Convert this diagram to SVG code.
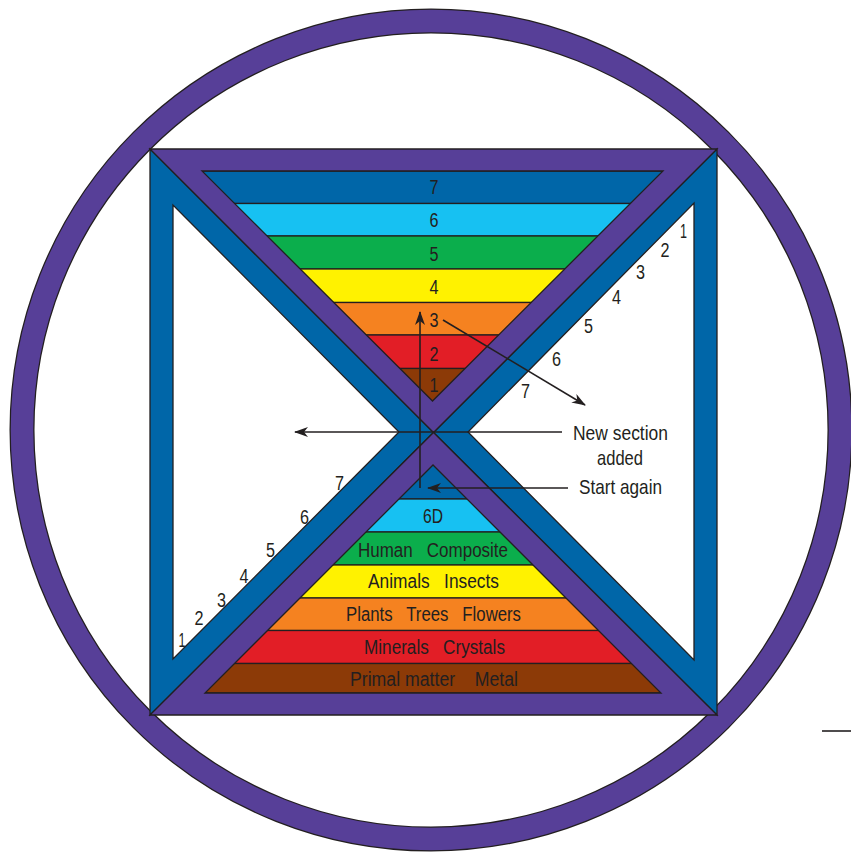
<svg xmlns="http://www.w3.org/2000/svg" width="851" height="855" viewBox="0 0 851 855">
<style>
.ol{stroke:#231f20;stroke-width:1.3;stroke-linejoin:miter}
.pur{fill:#573f98}
.blu{fill:#0066a8}
.wht{fill:#ffffff}
.lb{fill:#17c1f2}
.gr{fill:#0bae4c}
.ye{fill:#fff200}
.or{fill:#f58220}
.re{fill:#e21e26}
.br{fill:#8c3a07}
.band{stroke:#231f20;stroke-width:1.3}
text{font-family:"Liberation Sans",Arial,sans-serif;fill:#231f20}
.lbl{font-size:20px;text-anchor:middle}
.num{font-size:20px;text-anchor:middle}
.note{font-size:21px;text-anchor:middle}
.arr{stroke:#231f20;stroke-width:1.6;fill:none}
</style>
<defs>
<marker id="ah" viewBox="0 0 14 10" refX="13" refY="5" markerWidth="14" markerHeight="10" markerUnits="userSpaceOnUse" orient="auto">
<path d="M0,0 L14,5 L0,10 L4,5 Z" fill="#231f20"/>
</marker>
<clipPath id="clipTop"><polygon points="202,171 663,171 432.5,401"/></clipPath>
<clipPath id="clipBot"><polygon points="205,693 661,693 433,465"/></clipPath>
</defs>
<rect width="851" height="855" fill="#ffffff"/>
<g id="ring">
<circle cx="431" cy="430" r="409" fill="none" stroke="#231f20" stroke-width="25"/>
<circle cx="431" cy="430" r="409" fill="none" stroke="#573f98" stroke-width="22.5"/>
</g>
<g id="left-triangle">
<polygon class="blu ol" points="150,149 150,715 433.5,432.5"/>
<polygon class="wht ol" points="173,205 173,659 399,432"/>
</g>
<g id="right-triangle">
<polygon class="blu ol" points="717,149 717,715 433.5,432.5"/>
<polygon class="wht ol" points="694,203 694,660 468,432"/>
</g>
<g id="top-triangle">
<polygon class="pur ol" points="150,149 717,149 433.5,432.5"/>
<g clip-path="url(#clipTop)">
<rect class="blu band" x="190" y="171" width="490" height="32.5"/>
<rect class="lb band" x="190" y="203.5" width="490" height="32.5"/>
<rect class="gr band" x="190" y="236" width="490" height="33"/>
<rect class="ye band" x="190" y="269" width="490" height="33.5"/>
<rect class="or band" x="190" y="302.5" width="490" height="32.5"/>
<rect class="re band" x="190" y="335" width="490" height="33.5"/>
<rect class="br band" x="190" y="368.5" width="490" height="40"/>
</g>
<polygon class="ol" fill="none" points="202,171 663,171 432.5,401"/>
<text class="lbl" x="434" y="194" textLength="9" lengthAdjust="spacingAndGlyphs">7</text>
<text class="lbl" x="434" y="227" textLength="9" lengthAdjust="spacingAndGlyphs">6</text>
<text class="lbl" x="434" y="261" textLength="9" lengthAdjust="spacingAndGlyphs">5</text>
<text class="lbl" x="434" y="294" textLength="9" lengthAdjust="spacingAndGlyphs">4</text>
<text class="lbl" x="434" y="327" textLength="9" lengthAdjust="spacingAndGlyphs">3</text>
<text class="lbl" x="434" y="361" textLength="9" lengthAdjust="spacingAndGlyphs">2</text>
<text class="lbl" x="434" y="392" textLength="9" lengthAdjust="spacingAndGlyphs">1</text>
</g>
<g id="bottom-triangle">
<polygon class="pur ol" points="150,715 717,715 433.5,432.5"/>
<g clip-path="url(#clipBot)">
<rect class="blu band" x="190" y="460" width="490" height="39"/>
<rect class="lb band" x="190" y="499" width="490" height="33"/>
<rect class="gr band" x="190" y="532" width="490" height="33"/>
<rect class="ye band" x="190" y="565" width="490" height="33"/>
<rect class="or band" x="190" y="598" width="490" height="32.5"/>
<rect class="re band" x="190" y="630.5" width="490" height="33"/>
<rect class="br band" x="190" y="663.5" width="490" height="29.5"/>
</g>
<polygon class="ol" fill="none" points="205,693 661,693 433,465"/>
<text class="lbl" x="433" y="523" textLength="20" lengthAdjust="spacingAndGlyphs">6D</text>
<text class="lbl" x="433" y="557" xml:space="preserve" textLength="150" lengthAdjust="spacingAndGlyphs">Human   Composite</text>
<text class="lbl" x="433.5" y="588" xml:space="preserve" textLength="131" lengthAdjust="spacingAndGlyphs">Animals   Insects</text>
<text class="lbl" x="433.5" y="621" xml:space="preserve" textLength="175" lengthAdjust="spacingAndGlyphs">Plants   Trees   Flowers</text>
<text class="lbl" x="434.5" y="654" xml:space="preserve" textLength="141" lengthAdjust="spacingAndGlyphs">Minerals   Crystals</text>
<text class="lbl" x="434" y="686" xml:space="preserve" textLength="168" lengthAdjust="spacingAndGlyphs">Primal matter    Metal</text>
</g>
<g id="left-scale">
<text class="num" x="182" y="647" textLength="7" lengthAdjust="spacingAndGlyphs">1</text>
<text class="num" x="199" y="625" textLength="9" lengthAdjust="spacingAndGlyphs">2</text>
<text class="num" x="221.5" y="607" textLength="9" lengthAdjust="spacingAndGlyphs">3</text>
<text class="num" x="244" y="583" textLength="9" lengthAdjust="spacingAndGlyphs">4</text>
<text class="num" x="270.5" y="557" textLength="9" lengthAdjust="spacingAndGlyphs">5</text>
<text class="num" x="304.5" y="524" textLength="9" lengthAdjust="spacingAndGlyphs">6</text>
<text class="num" x="339.5" y="490" textLength="9" lengthAdjust="spacingAndGlyphs">7</text>
</g>
<g id="right-scale">
<text class="num" x="683.5" y="238" textLength="7" lengthAdjust="spacingAndGlyphs">1</text>
<text class="num" x="665" y="257" textLength="9" lengthAdjust="spacingAndGlyphs">2</text>
<text class="num" x="640.5" y="279" textLength="9" lengthAdjust="spacingAndGlyphs">3</text>
<text class="num" x="616.5" y="304" textLength="9" lengthAdjust="spacingAndGlyphs">4</text>
<text class="num" x="588.5" y="333" textLength="9" lengthAdjust="spacingAndGlyphs">5</text>
<text class="num" x="556.5" y="366" textLength="9" lengthAdjust="spacingAndGlyphs">6</text>
<text class="num" x="525.5" y="398" textLength="9" lengthAdjust="spacingAndGlyphs">7</text>
</g>
<g id="labels">
<text class="note" x="620.5" y="439.5" textLength="95" lengthAdjust="spacingAndGlyphs">New section</text>
<text class="note" x="620" y="465" textLength="46" lengthAdjust="spacingAndGlyphs">added</text>
<text class="note" x="620.5" y="494" textLength="83" lengthAdjust="spacingAndGlyphs">Start again</text>
</g>
<g id="connectors">
<line class="arr" x1="420" y1="488" x2="420" y2="312" marker-end="url(#ah)"/>
<line class="arr" x1="562" y1="432" x2="295" y2="432" marker-end="url(#ah)"/>
<line class="arr" x1="568" y1="488" x2="428" y2="488" marker-end="url(#ah)"/>
<line class="arr" x1="443" y1="320" x2="585" y2="405" marker-end="url(#ah)"/>
<line class="arr" x1="822" y1="731" x2="851" y2="731"/>
</g>
</svg>
